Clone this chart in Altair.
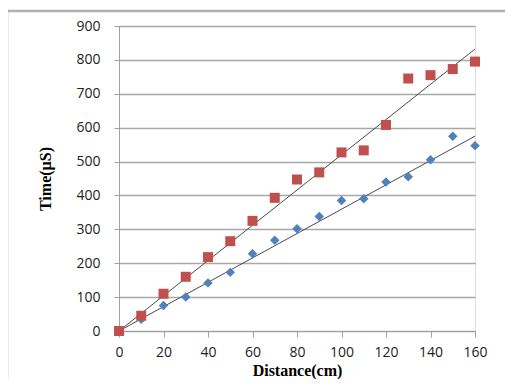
import altair as alt
import pandas as pd

distance = [0, 10, 20, 30, 40, 50, 60, 70, 80, 90, 100, 110, 120, 130, 140, 150, 160]
time_red = [0, 45, 110, 160, 218, 265, 325, 393, 447, 468, 527, 533, 608, 745, 755, 773, 795]
time_blue = [0, 35, 75, 100, 142, 173, 228, 268, 302, 338, 385, 390, 440, 455, 505, 575, 547]
trend_x = [0, 160]
trend_red = [0, 832]
trend_blue = [0, 575]
x_ticks = [0, 20, 40, 60, 80, 100, 120, 140, 160]
y_ticks = [0, 100, 200, 300, 400, 500, 600, 700, 800, 900]

df_red = pd.DataFrame({"d": distance, "t": time_red})
df_blue = pd.DataFrame({"d": distance, "t": time_blue})
df_trend = pd.DataFrame({
    "d": trend_x + trend_x,
    "t": trend_red + trend_blue,
    "s": ["red", "red", "blue", "blue"],
})

xs = alt.Scale(domain=[0, 160], nice=False, zero=False)
ys = alt.Scale(domain=[0, 900], nice=False, zero=False)

xax = alt.Axis(values=x_ticks, title="Distance(cm)", grid=False, domainColor="#a0a0a0",
               tickColor="#a0a0a0", tickSize=6, labelFont="Open Sans", labelFontSize=14,
               labelColor="#222222", labelPadding=8, labelFlush=False, labelOverlap=False,
               titleFont="Liberation Serif", titleFontSize=16, titleFontWeight="bold",
               titleColor="#000000", titlePadding=3)
yax = alt.Axis(values=y_ticks, title="Time(µS)", grid=True, gridColor="#a8a8a8", gridWidth=1.5,
               domainColor="#a0a0a0", tickColor="#a0a0a0", tickSize=5, labelFont="Open Sans",
               labelFontSize=14, labelColor="#222222", labelPadding=14, labelFlush=False,
               labelOverlap=False, titleFont="Liberation Serif", titleFontSize=16,
               titleFontWeight="bold", titleColor="#000000", titlePadding=22)

frame = alt.Chart(pd.DataFrame({"a": [0]})).mark_rect(
    fill=None, stroke="#b0b0b0", strokeWidth=2.5
).encode(x=alt.value(-112), x2=alt.value(420), y=alt.value(-15), y2=alt.value(400))

trend = alt.Chart(df_trend).mark_line(color="#4a4a4a", strokeWidth=1).encode(
    x=alt.X("d:Q", scale=xs, axis=xax),
    y=alt.Y("t:Q", scale=ys, axis=yax),
    detail="s:N",
)

blue = alt.Chart(df_blue).mark_point(shape="diamond", filled=True, color="#4F81BD",
                                     size=90, opacity=1).encode(
    x=alt.X("d:Q", scale=xs, axis=xax), y=alt.Y("t:Q", scale=ys, axis=yax))

red = alt.Chart(df_red).mark_point(shape="square", filled=True, color="#C0504D",
                                   size=100, opacity=1).encode(
    x=alt.X("d:Q", scale=xs, axis=xax), y=alt.Y("t:Q", scale=ys, axis=yax))

chart = alt.layer(frame, trend, blue, red).properties(
    width=356, height=305,
    autosize=alt.AutoSizeParams(type="none"),
    padding={"left": 111, "top": 18, "right": 30, "bottom": 48},
).configure_view(stroke=None).configure(background="white")

chart.save("out.html", embed_options={"renderer": "svg", "actions": False})
